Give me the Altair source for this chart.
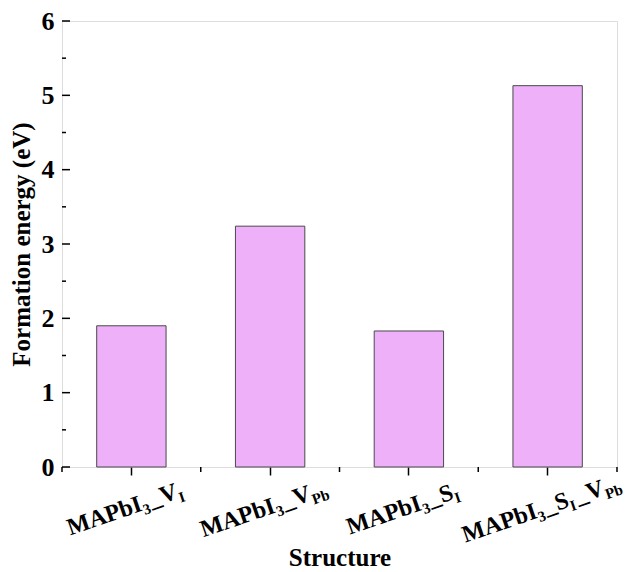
import math
import altair as alt
import pandas as pd

# ---- data ----
structures = ["MAPbI3_VI", "MAPbI3_VPb", "MAPbI3_SI", "MAPbI3_SI_VPb"]
energies = [1.90, 3.24, 1.83, 5.13]
label_pieces = [
    [("MAPbI", "n"), ("3", "s"), ("_V", "n"), ("I", "s")],
    [("MAPbI", "n"), ("3", "s"), ("_V", "n"), ("Pb", "s")],
    [("MAPbI", "n"), ("3", "s"), ("_S", "n"), ("I", "s")],
    [("MAPbI", "n"), ("3", "s"), ("_S", "n"), ("I", "s"), ("_V", "n"), ("Pb", "s")],
]
y_major = [0, 1, 2, 3, 4, 5, 6]
y_minor = [0.5, 1.5, 2.5, 3.5, 4.5, 5.5]

# ---- layout / style ----
W, H = 555, 446
STEP = W / len(structures)
BW = STEP * 0.5
FONT = "Liberation Serif"
F_MAIN, F_SUB = 24, 15
SUB_DROP = 5
ANGLE = -19.0
LABEL_DOWN = 41
LABEL_SHIFT = -6
GAP = 1

# Times/Liberation Serif Bold advance widths (per 1000 em)
ADV = {"M": 944, "A": 722, "P": 611, "b": 556, "I": 389, "_": 500,
       "V": 722, "S": 556, "3": 500}

a = math.radians(ANGLE)
ca, sa = math.cos(a), math.sin(a)
cx, cy = LABEL_DOWN * sa, LABEL_DOWN * ca

rows = []
for s, pieces in zip(structures, label_pieces):
    cur = 0.0
    laid = []
    for txt, kind in pieces:
        size = F_MAIN if kind == "n" else F_SUB
        w = sum(ADV[c] for c in txt) * size / 1000
        if kind == "n" and txt.startswith("_V") and len(laid) > 2:
            cur += GAP
        laid.append((txt, kind, cur, size))
        cur += w
        if kind == "s":
            cur += 1
    total = cur
    for txt, kind, start, size in laid:
        lx = start - total / 2 + cx
        ly = cy + 8 + (SUB_DROP if kind == "s" else 0)
        sx = lx * ca - ly * sa
        sy = lx * sa + ly * ca
        rows.append({"structure": s, "t": txt, "size": size,
                     "ox": sx + BW / 2 + LABEL_SHIFT, "oy": sy})
pieces_df = pd.DataFrame(rows)

bars_df = pd.DataFrame({"structure": structures, "energy": energies})
ymaj_df = pd.DataFrame({"v": y_major})
ymin_df = pd.DataFrame({"v": y_minor})
xmin_rows = [{"structure": s, "ox": BW / 2 - STEP / 2} for s in structures]
xmin_rows.append({"structure": structures[-1], "ox": BW / 2 + STEP / 2})
xmin_df = pd.DataFrame(xmin_rows)

xscale = alt.Scale(domain=structures, paddingInner=0.5, paddingOuter=0.25)
yscale = alt.Scale(domain=[0, 6], nice=False)

bars = alt.Chart(bars_df).mark_bar(
    fill="#EDB0F9", stroke="#4a4a4a", strokeWidth=1
).encode(
    x=alt.X("structure:N", scale=xscale, sort=structures,
            axis=alt.Axis(labels=False, domain=False, tickSize=8, tickWidth=1.5,
                          tickColor="black", title="Structure",
                          titleFont=FONT, titleFontSize=25, titleFontWeight="bold",
                          titleColor="black", titlePadding=70)),
    y=alt.Y("energy:Q", scale=yscale,
            axis=alt.Axis(values=y_major, format="d", tickSize=0, domain=False,
                          grid=False, labelFont=FONT, labelFontSize=26,
                          labelFontWeight="bold", labelColor="black",
                          labelPadding=8, title="Formation energy (eV)",
                          titleFont=FONT, titleFontSize=25,
                          titleFontWeight="bold", titleColor="black",
                          titlePadding=7)),
)

ymaj = alt.Chart(ymaj_df).mark_rule(color="black", strokeWidth=1.5).encode(
    y=alt.Y("v:Q", scale=yscale), x=alt.value(0), x2=alt.value(8))
ymin = alt.Chart(ymin_df).mark_rule(color="black", strokeWidth=1.5).encode(
    y=alt.Y("v:Q", scale=yscale), x=alt.value(0), x2=alt.value(4))
xmin = alt.Chart(xmin_df).mark_rule(color="black", strokeWidth=1.5).encode(
    x=alt.X("structure:N", scale=xscale, sort=structures),
    xOffset=alt.XOffset("ox:Q", scale=None),
    y=alt.value(H), y2=alt.value(H + 5))

labels = alt.Chart(pieces_df).mark_text(
    angle=360 + ANGLE, align="left", baseline="alphabetic",
    font=FONT, fontWeight="bold", color="black"
).encode(
    x=alt.X("structure:N", scale=xscale, sort=structures),
    xOffset=alt.XOffset("ox:Q", scale=None),
    y=alt.datum(0),
    yOffset=alt.YOffset("oy:Q", scale=None),
    text="t:N",
    size=alt.Size("size:Q", scale=None),
)

chart = alt.layer(bars, ymaj, ymin, xmin, labels).properties(
    width=W, height=H,
    autosize=alt.AutoSizeParams(type="none"),
    padding={"left": 54, "top": 13, "right": 11, "bottom": 104},
).configure_view(stroke="black", strokeWidth=1.8).configure(background="white")

chart.save("out.html", embed_options={"renderer": "svg", "actions": False})
